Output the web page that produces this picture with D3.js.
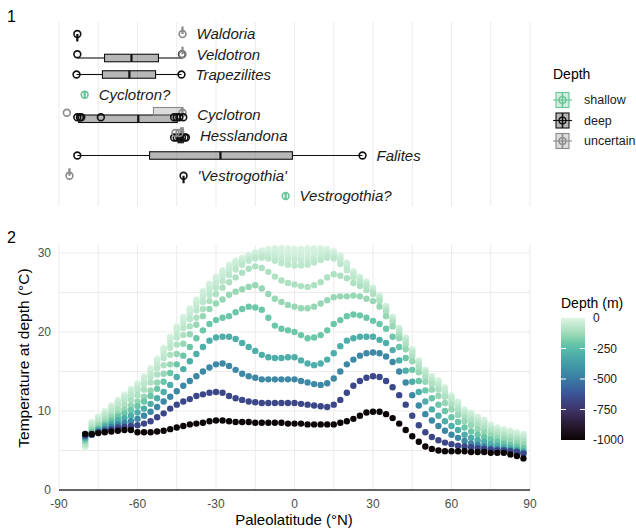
<!DOCTYPE html>
<html><head><meta charset="utf-8">
<script src="https://cdn.jsdelivr.net/npm/d3@7"></script>
<style>body{margin:0;background:#fff;} svg{display:block;font-family:"Liberation Sans",Arial,sans-serif;}</style>
</head><body><svg id="c" width="636" height="531"></svg>
<script>
// ---------- Panel 2 data ----------
const latitudes = [-80,-77.5,-75,-72.5,-70,-67.5,-65,-62.5,-60,-57.5,-55,-52.5,-50,-47.5,-45,-42.5,-40,-37.5,-35,-32.5,-30,-27.5,-25,-22.5,-20,-17.5,-15,-12.5,-10,-7.5,-5,-2.5,0,2.5,5,7.5,10,12.5,15,17.5,20,22.5,25,27.5,30,32.5,35,37.5,40,42.5,45,47.5,50,52.5,55,57.5,60,62.5,65,67.5,70,72.5,75,77.5,80,82.5,85,87.5];
const depthLevels = [-5,-15,-25,-35,-48,-67,-96,-139,-204,-301,-447,-666,-996];
const temp_5 = [5.6,8.6,9.3,10.0,10.7,11.4,12.1,12.8,13.5,14.4,15.4,16.6,18.0,19.4,20.7,21.9,23.0, 24.1,25.2,26.1,27.0,27.8,28.5,29.0,29.4,29.8,30.1,30.3,30.5,30.6,30.6,30.6, 30.5,30.5,30.6,30.6,30.6,30.5,30.2,29.7,28.8,27.7,27.0,26.4, 25.6,24.6,23.3,21.9,20.5,19.3,17.8,16.4,15.2,14.4,13.9,13.0,12.0,11.2,10.2,9.8,9.3,8.9,8.3,7.9,7.7,7.5,7.3,7.1];
const temp_15 = [5.5,8.5,9.2,9.9,10.6,11.3,12.0,12.7,13.4,14.3,15.3,16.5,17.9,19.3,20.6,21.8,22.9, 24.0,25.1,26.0,26.9,27.7,28.4,28.9,29.3,29.7,30.0,30.2,30.4,30.5,30.4,30.4, 30.3,30.3,30.4,30.4,30.4,30.3,30.1,29.6,28.7,27.6,26.9,26.3, 25.6,24.6,23.3,21.9,20.5,19.3,17.8,16.4,15.2,14.4,13.8,12.9,11.9,11.1,10.1,9.7,9.2,8.8,8.2,7.8,7.6,7.4,7.2,7.0];
const temp_25 = [5.5,8.4,9.1,9.8,10.5,11.2,11.9,12.6,13.3,14.2,15.2,16.4,17.8,19.2,20.5,21.7,22.8, 23.9,25.0,25.9,26.8,27.6,28.3,28.8,29.2,29.6,29.9,30.1,30.1,30.1,30.0,29.9, 29.9,29.9,30.0,30.1,30.2,30.1,29.9,29.4,28.6,27.5,26.9,26.3, 25.5,24.5,23.2,21.8,20.4,19.2,17.7,16.3,15.1,14.3,13.7,12.8,11.8,11.0,10.0,9.6,9.1,8.7,8.1,7.7,7.5,7.3,7.1,6.9];
const temp_35 = [5.6,8.3,9.0,9.7,10.4,11.1,11.8,12.5,13.2,14.0,15.0,16.2,17.6,19.0,20.3,21.5,22.6, 23.7,24.8,25.7,26.6,27.4,28.1,28.7,29.1,29.5,29.8,29.9,29.9,29.8,29.6,29.5, 29.5,29.4,29.5,29.6,29.8,29.9,29.8,29.3,28.5,27.4,26.8,26.2, 25.4,24.4,23.1,21.7,20.3,19.1,17.6,16.2,15.0,14.2,13.6,12.7,11.7,10.9,9.9,9.5,9.0,8.6,8.0,7.6,7.4,7.2,7.0,6.8];
const temp_48 = [5.7,8.2,8.9,9.6,10.3,11.0,11.6,12.3,12.9,13.7,14.7,15.8,17.2,18.6,19.9,21.1,22.2, 23.3,24.4,25.3,26.2,27.0,27.7,28.3,28.8,29.2,29.5,29.7,29.6,29.4,29.2,29.1, 29.1,29.0,29.0,29.2,29.5,29.7,29.6,29.0,28.2,27.2,26.6,26.0, 25.3,24.3,23.0,21.6,20.2,19.0,17.5,16.1,14.9,14.0,13.4,12.5,11.5,10.7,9.8,9.3,8.8,8.4,7.8,7.4,7.2,7.0,6.8,6.6];
const temp_67 = [5.8,8.0,8.7,9.4,10.0,10.7,11.3,12.0,12.6,13.4,14.3,15.4,16.7,18.0,19.3,20.5,21.6, 22.7,23.8,24.7,25.6,26.4,27.2,27.9,28.5,29.0,29.3,29.4,29.3,29.0,28.7,28.5, 28.4,28.4,28.5,28.8,29.1,29.4,29.3,28.6,27.8,26.9,26.3,25.8, 25.1,24.1,22.8,21.4,20.0,18.8,17.3,15.9,14.7,13.8,13.1,12.2,11.2,10.4,9.5,9.0,8.5,8.1,7.6,7.2,7.0,6.8,6.6,6.4];
const temp_96 = [6.0,7.8,8.4,9.0,9.6,10.2,10.8,11.4,12.0,12.7,13.6,14.6,15.8,17.1,18.4,19.6,20.7, 21.8,22.9,23.9,24.8,25.6,26.3,26.9,27.5,28.0,28.3,28.1,27.6,27.0,26.5,26.2, 26.0,25.8,25.7,25.9,26.3,26.9,27.3,27.1,26.8,26.2,25.8,25.3, 24.8,23.9,22.6,21.2,19.7,18.4,16.9,15.5,14.3,13.4,12.7,11.8,10.8,10.1,9.2,8.7,8.2,7.8,7.3,7.0,6.8,6.6,6.4,6.2];
const temp_139 = [6.2,7.6,8.1,8.6,9.2,9.7,10.2,10.7,11.2,11.8,12.6,13.6,14.7,15.9,17.2,18.5,19.7, 20.9,22.0,22.9,23.6,24.1,24.7,25.1,25.4,25.7,25.9,25.5,24.8,24.2,23.8,23.4, 23.2,23.0,23.0,23.2,23.6,24.0,24.4,24.5,24.5,24.6,24.5,24.2, 23.9,23.2,22.0,20.7,19.2,17.8,16.3,14.9,13.7,12.7,11.9,11.0,10.2,9.5,8.7,8.2,7.7,7.3,6.9,6.6,6.4,6.2,6.0,5.8];
const temp_204 = [6.4,7.3,7.8,8.3,8.8,9.3,9.7,10.1,10.6,11.2,11.9,12.8,13.7,14.8,15.9,17.0,18.1, 19.2,20.2,21.0,21.5,21.8,22.0,22.5,22.9,23.2,23.1,22.8,21.8,20.8,20.4,20.2, 20.0,19.6,19.2,19.3,19.6,20.2,21.0,21.5,22.0,22.2,22.1,21.8, 21.4,21.0,20.4,19.4,18.1,16.7,15.2,13.8,12.6,11.6,10.8,10.0,9.2,8.6,7.9,7.4,7.0,6.7,6.4,6.1,5.9,5.7,5.5,5.3];
const temp_301 = [6.6,7.1,7.6,8.0,8.4,8.8,9.1,9.4,9.8,10.3,10.9,11.6,12.4,13.3,14.3,15.3,16.3, 17.2,18.1,18.9,19.3,19.4,19.4,19.1,18.6,18.1,17.6,17.1,16.8,16.7,16.7,16.8, 16.8,16.4,16.0,15.8,16.0,16.5,17.3,18.2,18.9,19.2,19.4,19.4, 19.4,19.0,18.6,17.7,16.4,15.1,13.7,12.4,11.2,10.2,9.4,8.7,8.1,7.6,7.0,6.6,6.3,6.1,5.8,5.6,5.4,5.3,5.1,4.9];
const temp_447 = [6.8,7.0,7.4,7.7,8.0,8.3,8.5,8.7,9.0,9.4,9.9,10.5,11.2,11.8,12.5,13.2,13.8, 14.4,15.0,15.5,15.9,16.0,15.7,15.2,14.7,14.4,14.2,14.0,14.0,14.0,14.0,14.0, 14.0,13.8,13.6,13.4,13.3,13.5,14.1,15.0,15.9,16.5,17.0,17.3, 17.4,17.3,16.9,16.2,15.0,13.6,12.0,10.7,9.6,8.8,8.1,7.5,7.0,6.6,6.2,5.9,5.7,5.5,5.3,5.2,5.1,5.0,4.9,4.7];
const temp_666 = [6.9,7.0,7.3,7.5,7.7,7.9,8.0,8.1,8.2,8.4,8.7,9.2,9.7,10.3,10.8,11.2,11.5, 11.9,12.1,12.3,12.4,12.3,11.9,11.6,11.4,11.2,11.1,11.0,11.0,11.0,11.0,11.0, 11.0,10.9,10.8,10.7,10.6,10.5,10.8,11.4,12.3,13.2,13.8,14.2, 14.4,14.3,13.8,13.0,12.0,10.8,9.4,8.2,7.3,6.7,6.3,6.0,5.8,5.6,5.5,5.4,5.3,5.2,5.1,5.0,5.0,4.9,4.8,4.6];
const temp_996 = [7.1,7.1,7.2,7.3,7.4,7.5,7.6,7.6,7.3,7.3,7.3,7.4,7.5,7.7,7.9,8.1,8.3, 8.4,8.5,8.7,8.8,8.8,8.7,8.6,8.6,8.6,8.5,8.5,8.5,8.5,8.5,8.4, 8.4,8.4,8.3,8.3,8.3,8.3,8.3,8.5,8.7,9.0,9.4,9.8, 9.9,9.9,9.6,9.1,8.4,7.6,6.8,6.1,5.5,5.2,5.0,4.9,4.9,4.9,4.9,4.8,4.8,4.8,4.7,4.7,4.7,4.5,4.3,4.0];
const temperatures = [temp_5,temp_15,temp_25,temp_35,temp_48,temp_67,temp_96,temp_139,temp_204,temp_301,temp_447,temp_666,temp_996];
const xTicks = [-90,-60,-30,0,30,60,90];
const yTicks = [0,10,20,30];
const depthTicks = [0,-250,-500,-750,-1000];

// ---------- Panel 1 data ----------
const genera = ["Waldoria","Veldotron","Trapezilites","Cyclotron?","Cyclotron","Hesslandona","Falites","'Vestrogothia'","Vestrogothia?"];
const depthClasses = ["shallow","deep","uncertain"];
const boxGenus = ["Waldoria","Waldoria","Veldotron","Veldotron","Trapezilites","Cyclotron?","Cyclotron","Cyclotron","Hesslandona","Hesslandona","Falites","'Vestrogothia'","'Vestrogothia'","Vestrogothia?"];
const boxDepth = ["deep","uncertain","deep","uncertain","deep","shallow","deep","uncertain","deep","uncertain","deep","deep","uncertain","shallow"];
const boxMin = [-83,-42.8,-83,-42.8,-83.3,-80.2,-83,-53.9,-45,-44,-83,-42.4,-86,-3.4];
const boxQ1  = [-83,-42.8,-72.6,-42.8,-73.4,-80.2,-82.5,-53.9,-44.5,-43.5,-55.4,-42.4,-86,-3.4];
const boxMed = [-83,-42.8,-62.3,-42.8,-63.1,-80.2,-59.7,-42.8,-43.5,-43,-28.3,-42.4,-86,-3.4];
const boxQ3  = [-83,-42.8,-52,-42.8,-53.1,-80.2,-44.8,-42.8,-42.5,-42.5,-0.8,-42.4,-86,-3.4];
const boxMax = [-83,-42.8,-43,-42.8,-43.2,-80.2,-42.8,-42.8,-41.5,-42,26,-42.4,-86,-3.4];
const pointGenus = ["Waldoria","Waldoria","Veldotron","Veldotron","Veldotron","Trapezilites","Trapezilites","Cyclotron?","Cyclotron","Cyclotron","Cyclotron","Cyclotron","Cyclotron","Cyclotron","Cyclotron","Cyclotron","Cyclotron","Cyclotron","Hesslandona","Hesslandona","Hesslandona","Hesslandona","Hesslandona","Hesslandona","Hesslandona","Hesslandona","Falites","Falites","'Vestrogothia'","'Vestrogothia'","Vestrogothia?"];
const pointDepth = ["deep","uncertain","deep","deep","uncertain","deep","deep","shallow","uncertain","uncertain","deep","deep","deep","deep","deep","deep","deep","deep","deep","deep","deep","deep","deep","deep","uncertain","uncertain","deep","deep","deep","uncertain","shallow"];
const pointLat = [-83,-42.8,-83,-43,-42.8,-83.3,-43.2,-80.2,-87,-42.8,-83,-82,-81.5,-74,-46,-45,-44,-42.5,-46,-45,-44,-43,-42,-41.5,-45.5,-44,-83,26,-42.4,-86,-3.4];

// ---------- drawing ----------
const svg = d3.select("#c");
const x = d3.scaleLinear().domain([-90,90]).range([59,530]);
const y = d3.scaleLinear().domain([0,31]).range([490,245]);
const gridCol = "#ebebeb";

const makoStops = [[0,"#0B0405"],[0.12,"#28192F"],[0.25,"#3E356B"],[0.33,"#3C4688"],[0.42,"#3962A0"],[0.5,"#3A7BA2"],[0.6,"#3F96A7"],[0.7,"#4EAEA9"],[0.75,"#5ABDAA"],[0.8,"#6EC8A8"],[0.875,"#A0DBB8"],[1,"#DEF5E5"]];
const color = d3.scaleLinear().domain(makoStops.map(s=>-1000+1000*s[0])).range(makoStops.map(s=>s[1])).interpolate(d3.interpolateRgb).clamp(true);

// panel tags
svg.append("text").attr("x",7).attr("y",22).attr("font-size",16).text("1");
svg.append("text").attr("x",7).attr("y",243).attr("font-size",16).text("2");

// ----- Panel 1 -----
const gridVals = d3.range(-90,91,15);
const p1 = svg.append("g");
p1.selectAll("line.g").data(gridVals).join("line").attr("x1",d=>x(d)).attr("x2",d=>x(d)).attr("y1",22).attr("y2",206).attr("stroke",gridCol).attr("stroke-width",1);
const row = d3.scalePoint().domain(genera).range([34,196]);
const depthStroke = {shallow:"#66c596", deep:"#111111", uncertain:"#8a8a8a"};
const dodge = {shallow:0, deep:3.75, uncertain:-3.75};
const boxes = boxGenus.map((g,i)=>({g, d:boxDepth[i], min:boxMin[i], q1:boxQ1[i], med:boxMed[i], q3:boxQ3[i], max:boxMax[i]}));
boxes.forEach(b=>{
  const n = boxes.filter(o=>o.g===b.g).length;
  const cy = row(b.g) + (n>1 ? dodge[b.d] : 0);
  const c = depthStroke[b.d];
  const gg = p1.append("g");
  gg.append("line").attr("x1",x(b.min)).attr("x2",x(b.q1)).attr("y1",cy).attr("y2",cy).attr("stroke",c).attr("stroke-width",1.1);
  gg.append("line").attr("x1",x(b.q3)).attr("x2",x(b.max)).attr("y1",cy).attr("y2",cy).attr("stroke",c).attr("stroke-width",1.1);
  gg.append("rect").attr("x",x(b.q1)).attr("y",cy-3.75).attr("width",x(b.q3)-x(b.q1)).attr("height",7.5).attr("fill",c).attr("fill-opacity",0.3).attr("stroke",c).attr("stroke-width",1.1);
  gg.append("line").attr("x1",x(b.med)).attr("x2",x(b.med)).attr("y1",cy-3.75).attr("y2",cy+3.75).attr("stroke",c).attr("stroke-width",2.2);
});
pointLat.forEach((lat,i)=>{
  const c = depthStroke[pointDepth[i]];
  const n = boxes.filter(o=>o.g===pointGenus[i]).length;
  const off = (pointGenus[i]==="Hesslandona" || pointGenus[i]==="Cyclotron") && n>1 ? dodge[pointDepth[i]]*0.6 : 0;
  p1.append("circle").attr("cx",x(lat)).attr("cy",row(pointGenus[i])+off).attr("r",3.4).attr("fill","none").attr("stroke",c).attr("stroke-width",1.6);
});
genera.forEach(g=>{
  const mx = d3.max(pointLat.filter((v,i)=>pointGenus[i]===g));
  p1.append("text").attr("x",x(mx)+14).attr("y",row(g)).attr("dy","0.35em").attr("font-size",15).attr("font-style","italic").attr("fill","#1a1a1a").text(g);
});
// legend 1
const lg = svg.append("g");
lg.append("text").attr("x",553).attr("y",79).attr("font-size",14).text("Depth");
depthClasses.forEach((d,i)=>{
  const cy = 100 + i*20.5, c = depthStroke[d];
  lg.append("line").attr("x1",553).attr("x2",572).attr("y1",cy).attr("y2",cy).attr("stroke",c).attr("stroke-width",1.1);
  lg.append("rect").attr("x",556).attr("y",cy-7.5).attr("width",13).attr("height",15).attr("fill",c).attr("fill-opacity",0.3).attr("stroke",c).attr("stroke-width",1.1);
  lg.append("line").attr("x1",562.5).attr("x2",562.5).attr("y1",cy-7.5).attr("y2",cy+7.5).attr("stroke",c).attr("stroke-width",1.6);
  lg.append("circle").attr("cx",562.5).attr("cy",cy).attr("r",3.4).attr("fill","none").attr("stroke",c).attr("stroke-width",1.4);
  lg.append("text").attr("x",584).attr("y",cy).attr("dy","0.35em").attr("font-size",12.5).attr("fill","#1a1a1a").text(d);
});

// ----- Panel 2 -----
const p2 = svg.append("g");
p2.selectAll("line.v").data(gridVals).join("line").attr("x1",d=>x(d)).attr("x2",d=>x(d)).attr("y1",245).attr("y2",490).attr("stroke",gridCol);
p2.selectAll("line.h").data(d3.range(0,31,5)).join("line").attr("x1",59).attr("x2",530).attr("y1",d=>y(d)).attr("y2",d=>y(d)).attr("stroke",gridCol);
const pts = [];
depthLevels.forEach((dep,j)=>{ temperatures[j].forEach((t,i)=>pts.push({lat:latitudes[i], t, dep})); });
p2.selectAll("circle").data(pts).join("circle").attr("cx",d=>x(d.lat)).attr("cy",d=>y(d.t)).attr("r",3.2).attr("fill",d=>color(d.dep));
p2.append("line").attr("x1",59).attr("x2",530).attr("y1",y(0)).attr("y2",y(0)).attr("stroke","#333").attr("stroke-width",1.6);
p2.selectAll("text.xt").data(xTicks).join("text").attr("x",d=>x(d)).attr("y",508).attr("text-anchor","middle").attr("font-size",12).attr("fill","#4d4d4d").text(d=>d);
p2.selectAll("text.yt").data(yTicks).join("text").attr("x",51).attr("y",d=>y(d)).attr("dy","0.35em").attr("text-anchor","end").attr("font-size",12).attr("fill","#4d4d4d").text(d=>d);
p2.append("text").attr("x",294).attr("y",525).attr("text-anchor","middle").attr("font-size",15).text("Paleolatitude (°N)");
p2.append("text").attr("transform","translate(29,358) rotate(-90)").attr("text-anchor","middle").attr("font-size",15.5).text("Temperature at depth (°C)");

// colorbar
const defs = svg.append("defs");
const grad = defs.append("linearGradient").attr("id","cb").attr("x1",0).attr("x2",0).attr("y1",1).attr("y2",0);
d3.range(0,1.0001,0.05).forEach(t=>grad.append("stop").attr("offset",t).attr("stop-color",color(-1000+1000*t)));
const cbY = d3.scaleLinear().domain([0,-1000]).range([318,440]);
svg.append("text").attr("x",561).attr("y",308).attr("font-size",14).text("Depth (m)");
svg.append("rect").attr("x",561).attr("y",318).attr("width",24).attr("height",122).attr("fill","url(#cb)");
depthTicks.forEach(v=>{
  if(v!==0 && v!==-1000){
    svg.append("line").attr("x1",561).attr("x2",566).attr("y1",cbY(v)).attr("y2",cbY(v)).attr("stroke","#fff").attr("stroke-width",1);
    svg.append("line").attr("x1",580).attr("x2",585).attr("y1",cbY(v)).attr("y2",cbY(v)).attr("stroke","#fff").attr("stroke-width",1);
  }
  svg.append("text").attr("x",593).attr("y",cbY(v)).attr("dy","0.35em").attr("font-size",12).attr("fill","#1a1a1a").text(v);
});
</script></body></html>
